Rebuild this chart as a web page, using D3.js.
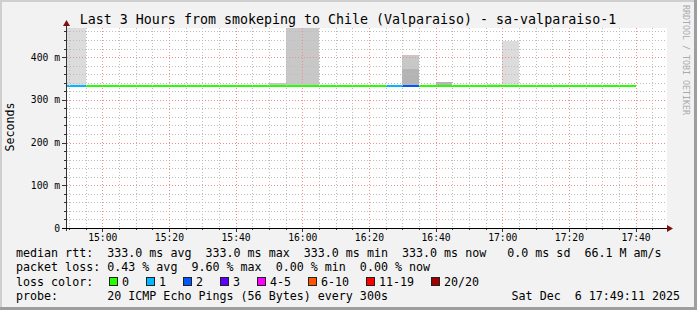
<!DOCTYPE html>
<html>
<head>
<meta charset="utf-8">
<script src="https://cdn.jsdelivr.net/npm/d3@7"></script>
<style>
  body { margin: 0; background: #f2f2f2; }
  text { font-family: "DejaVu Sans Mono", monospace; white-space: pre; }
</style>
</head>
<body>
<div id="chart"></div>
<script>
// 5 minute buckets (start time of each)
const bucketStart = ["14:45", "14:50", "14:55", "15:00", "15:05", "15:10", "15:15", "15:20", "15:25",
  "15:30", "15:35", "15:40", "15:45", "15:50", "15:55", "16:00", "16:05", "16:10", "16:15", "16:20",
  "16:25", "16:30", "16:35", "16:40", "16:45", "16:50", "16:55", "17:00", "17:05", "17:10", "17:15",
  "17:20", "17:25", "17:30", "17:35"];
// median rtt in ms per bucket
const medianRtt = [333, 333, 333, 333, 333, 333, 333, 333, 333, 333, 333, 333, 333, 333, 333, 333, 333, 333,
  333, 333, 333, 333, 333, 333, 333, 333, 333, 333, 333, 333, 333, 333, 333, 333, 333];
// lost pings (of 20) per bucket
const lossCount = [1, 1, 0, 0, 0, 0, 0, 0, 0, 0, 0, 0, 0, 0, 0, 0, 0, 0,
  0, 0, 1, 2, 0, 0, 0, 0, 0, 0, 0, 0, 0, 0, 0, 0, 0];

// smoke bands: bucket, low ms, high ms, rank (1 = outer pings, 3 = near median)
const smokeStart = ["14:45", "14:50", "15:50", "15:55", "16:00", "16:30", "16:30", "16:40", "16:55", "17:00"];
const smokeLow   = [333, 333, 333, 333, 333, 333, 372, 333, 333, 333];
const smokeHigh  = [560, 560, 339, 560, 560, 372, 405, 341, 337, 438];
const smokeRank  = [1, 1, 2, 2, 2, 3, 2, 3, 1, 1];

// axis ticks
const yTickValues = [0, 100, 200, 300, 400];
const yTickLabels = ["0", "100 m", "200 m", "300 m", "400 m"];
const xTickLabels = ["15:00", "15:20", "15:40", "16:00", "16:20", "16:40", "17:00", "17:20", "17:40"];

// loss legend
const lossLabels = ["0", "1", "2", "3", "4-5", "6-10", "11-19", "20/20"];
const lossColors = ["#26ff00", "#00b8ff", "#0059ff", "#5e00ff", "#ff00ff", "#ff5500", "#ff0000", "#a10000"];
const lossMax = [0, 1, 2, 3, 5, 10, 19, 20];

const legendRows = [
  "median rtt:  333.0 ms avg  333.0 ms max  333.0 ms min  333.0 ms now   0.0 ms sd  66.1 M am/s",
  "packet loss: 0.43 % avg  9.60 % max  0.00 % min  0.00 % now"
];
const probeText = "probe:       20 ICMP Echo Pings (56 Bytes) every 300s";
const dateText = "Sat Dec  6 17:49:11 2025";
const title = "Last 3 Hours from smokeping to Chile (Valparaiso) - sa-valparaiso-1";

const width = 697, height = 310;
const pL = 67, pR = 667, pT = 28, pB = 228;
const charW = 7.02; // legend font advance

const parse = d3.timeParse("%Y-%m-%d %H:%M");
const parseS = d3.timeParse("%Y-%m-%d %H:%M:%S");
const day = "2025-12-06 ";
const t = s => parse(day + s);

const x = d3.scaleTime()
  .domain([parseS(day + "14:49:25"), parseS(day + "17:49:25")])
  .range([pL, pR]);
const y = d3.scaleLinear().domain([0, 468]).range([pB, pT]);
const step = 5 * 60 * 1000;

const smokeColor = d3.scaleOrdinal().domain([1, 2, 3]).range(["#dcdcdc", "#c8c8c8", "#b4b4b4"]);
const lossColor = n => lossColors[lossMax.findIndex(m => n <= m)];

const svg = d3.select("#chart")
  .append("svg")
  .attr("width", width)
  .attr("height", height);

// background and shaded frame
svg.append("rect").attr("width", width).attr("height", height).attr("fill", "#f2f2f2");
svg.append("rect").attr("width", width).attr("height", 2).attr("fill", "#cfcfcf");
svg.append("rect").attr("width", 2).attr("height", height).attr("fill", "#cfcfcf");
svg.append("rect").attr("x", width - 3).attr("width", 3).attr("height", height).attr("fill", "#9e9e9e");
svg.append("rect").attr("y", height - 3).attr("width", width).attr("height", 3).attr("fill", "#9e9e9e");

// canvas
svg.append("rect")
  .attr("x", pL).attr("y", pT)
  .attr("width", pR - pL).attr("height", pB - pT)
  .attr("fill", "#fff");

svg.append("clipPath").attr("id", "plot")
  .append("rect")
  .attr("x", pL).attr("y", pT)
  .attr("width", pR - pL).attr("height", pB - pT);

const plot = svg.append("g").attr("clip-path", "url(#plot)");

// smoke
plot.selectAll(".smoke")
  .data(smokeStart.map((s, i) => ({ s: t(s), lo: smokeLow[i], hi: smokeHigh[i], r: smokeRank[i] })))
  .enter()
  .append("rect")
  .attr("class", "smoke")
  .attr("x", d => x(d.s))
  .attr("width", d => x(new Date(+d.s + step)) - x(d.s))
  .attr("y", d => y(d.hi))
  .attr("height", d => y(d.lo) - y(d.hi))
  .attr("fill", d => smokeColor(d.r))
  .attr("shape-rendering", "crispEdges");

// grid
const px = v => Math.round(v) + 0.5;
const minorY = d3.range(20, 468, 20).filter(v => v % 100 !== 0);
const majorY = yTickValues.filter(v => v > 0);
const minorX = x.ticks(d3.timeMinute.every(5)).filter(d => d.getMinutes() % 20 !== 0);
const majorX = x.ticks(d3.timeMinute.every(20));

const grid = svg.append("g").attr("fill", "none");
grid.selectAll(".gy").data(minorY).enter().append("line")
  .attr("x1", pL).attr("x2", pR).attr("y1", d => px(y(d))).attr("y2", d => px(y(d)))
  .attr("stroke", "#bdbdbd").attr("stroke-dasharray", "1,2");
grid.selectAll(".gx").data(minorX).enter().append("line")
  .attr("y1", pT).attr("y2", pB).attr("x1", d => px(x(d))).attr("x2", d => px(x(d)))
  .attr("stroke", "#bdbdbd").attr("stroke-dasharray", "1,2");
grid.selectAll(".my").data(majorY).enter().append("line")
  .attr("x1", pL).attr("x2", pR).attr("y1", d => px(y(d))).attr("y2", d => px(y(d)))
  .attr("stroke", "#f08c8c").attr("stroke-dasharray", "1,2");
grid.selectAll(".mx").data(majorX).enter().append("line")
  .attr("y1", pT).attr("y2", pB).attr("x1", d => px(x(d))).attr("x2", d => px(x(d)))
  .attr("stroke", "#f08c8c").attr("stroke-dasharray", "1,2");

// median line, coloured by loss
plot.selectAll(".median")
  .data(bucketStart.map((s, i) => ({ s: t(s), v: medianRtt[i], loss: lossCount[i] })))
  .enter()
  .append("line")
  .attr("class", "median")
  .attr("x1", d => x(d.s))
  .attr("x2", d => x(new Date(+d.s + step)))
  .attr("y1", d => y(d.v))
  .attr("y2", d => y(d.v))
  .attr("stroke", d => lossColor(d.loss))
  .attr("stroke-width", 2)
  .attr("shape-rendering", "crispEdges");

// axes
const axis = svg.append("g");
axis.selectAll(".ty").data(d3.range(0, 468, 20)).enter().append("line")
  .attr("x1", d => d % 100 === 0 ? 62 : 64).attr("x2", pL)
  .attr("y1", d => px(y(d))).attr("y2", d => px(y(d)))
  .attr("stroke", "#333");
axis.selectAll(".tx").data(x.ticks(d3.timeMinute.every(5))).enter().append("line")
  .attr("y1", pB).attr("y2", d => d.getMinutes() % 20 === 0 ? pB + 4 : pB + 2)
  .attr("x1", d => px(x(d))).attr("x2", d => px(x(d)))
  .attr("stroke", "#333");
axis.append("line").attr("x1", 66.5).attr("x2", 66.5).attr("y1", pB + 3).attr("y2", 23).attr("stroke", "#333");
axis.append("line").attr("x1", 62).attr("x2", pR + 2).attr("y1", pB + 0.5).attr("y2", pB + 0.5).attr("stroke", "#000");
axis.append("path").attr("d", "M63,26 L70,26 L66.5,20 Z").attr("fill", "#7f1010");
axis.append("path").attr("d", "M667,225 L667,232 L673,228.5 Z").attr("fill", "#7f1010");

// tick labels
svg.selectAll(".yl").data(yTickValues).enter().append("text")
  .attr("x", 60).attr("y", d => y(d) + 3.5)
  .attr("text-anchor", "end").attr("font-size", "9.7px").attr("fill", "#000")
  .text((d, i) => yTickLabels[i]);
svg.selectAll(".xl").data(xTickLabels).enter().append("text")
  .attr("x", d => x(t(d)) + 0.5).attr("y", 241)
  .attr("text-anchor", "middle").attr("font-size", "9.7px").attr("fill", "#000")
  .text(d => d);

// title and labels
svg.append("text").attr("x", 348).attr("y", 24)
  .attr("text-anchor", "middle").attr("font-size", "13.3px").text(title);
svg.append("text").attr("transform", "translate(14,127) rotate(-90)")
  .attr("text-anchor", "middle").attr("font-size", "11.6px").text("Seconds");
svg.append("text").attr("transform", "translate(683,5) rotate(90)")
  .attr("font-size", "8.3px").attr("fill", "#aaa").text("RRDTOOL / TOBI OETIKER");

// legend
svg.selectAll(".lg").data(legendRows).enter().append("text")
  .attr("x", 16).attr("y", (d, i) => 257 + i * 14.3)
  .attr("font-size", "11.67px").text(d => d);
svg.append("text").attr("x", 16).attr("y", 286).attr("font-size", "11.67px").text("loss color:");
// each entry: box, label, then a fixed gap (rrdtool style)
const lossLegendX = [];
lossLabels.reduce((acc, l) => { lossLegendX.push(acc); return acc + 30 + l.length * charW; }, 108.5);
const lg = svg.selectAll(".lc").data(lossLabels).enter().append("g")
  .attr("transform", (d, i) => `translate(${Math.round(lossLegendX[i])},277)`);
lg.append("rect").attr("x", 0.5).attr("y", 0.5).attr("width", 8).attr("height", 8)
  .attr("fill", (d, i) => lossColors[i]).attr("stroke", "#222");
lg.append("text").attr("x", 13).attr("y", 9).attr("font-size", "11.67px").text(d => d);
svg.append("text").attr("x", 16).attr("y", 300).attr("font-size", "11.67px").text(probeText);
svg.append("text").attr("x", 680).attr("y", 300).attr("text-anchor", "end")
  .attr("font-size", "11.67px").text(dateText);
</script>
</body>
</html>
